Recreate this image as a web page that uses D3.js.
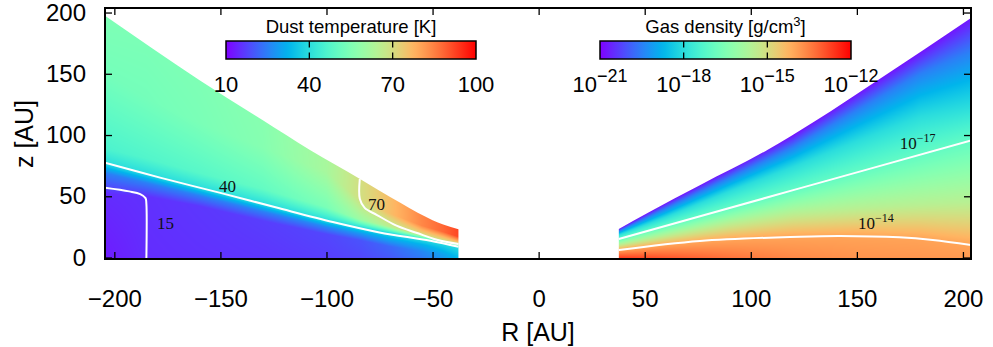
<!DOCTYPE html>
<html lang="en">
<head>
<meta charset="UTF-8">
<title>Disk model: dust temperature and gas density</title>
<script src="https://d3js.org/d3.v7.min.js"></script>
<style>
  body { margin: 0; background: #fff; }
  svg text { font-family: "Liberation Sans", Arial, sans-serif; fill: #000; }
  svg text.clabel { font-family: "Liberation Serif", "Times New Roman", serif; fill: #111; }
</style>
</head>
<body>
<svg id="chart" width="993" height="347"></svg>
<script>
// axis ticks
const xTicks = [-200, -150, -100, -50, 0, 50, 100, 150, 200];
const yTicks = [0, 50, 100, 150, 200];

// colour bar ticks
const tempTicks = [10, 40, 70, 100];
const densTicks = [-21, -18, -15, -12];

// disk surface, [|R|, z] in AU, for each half; inner edge of the grid
const innerR = 37.8;
const surfaceLeft = [[37.8, 23], [45, 27], [50, 30.5], [57, 36.5], [65, 44.5], [75, 54.5], [84, 64], [108, 88], [130, 112], [160, 145], [205, 198]];
const surfaceRight = [[37.8, 23.3], [52, 37], [76, 59], [108, 88], [130, 111], [160, 145], [205, 197]];

// dust temperature (R < 0): vertical profiles, z [AU] and T [K] at matching stops
const tempCols = [
  {R: -204.4, z: [-1.2, 52, 69, 77.4, 89, 150, 204], T: [13, 15, 25, 40, 46, 53, 55]},
  {R: -185,   z: [-1.2, 50, 61, 68.6, 81, 130, 204], T: [15, 15.5, 25, 40, 47, 53, 55]},
  {R: -160,   z: [-1.2, 42, 50.5, 57.3, 69, 110, 204], T: [15.5, 16.2, 25, 40, 48, 54, 56]},
  {R: -130,   z: [-1.2, 30, 37.5, 43.8, 56, 90, 204], T: [16, 17, 25, 40, 50, 56, 58]},
  {R: -100,   z: [-1.2, 19, 25, 30.3, 41, 70, 204], T: [17, 18, 26, 40, 54, 62, 64]},
  {R: -84,    z: [-1.2, 14, 19.5, 24.7, 31, 47, 204], T: [18, 19.5, 28, 40, 60, 69.5, 70.5]},
  {R: -70,    z: [-1.2, 9, 14.5, 20, 25, 36, 204], T: [20, 22, 30, 40, 65, 76, 78]},
  {R: -55,    z: [-1.2, 5, 10.5, 15, 18.6, 26, 204], T: [24, 26, 32, 40, 70, 84, 88]},
  {R: -45,    z: [-1.2, 3, 8, 11.8, 14.2, 21, 204], T: [28, 30, 35, 40, 70, 88, 92]},
  {R: -37.8,  z: [-1.2, 1, 5, 8.8, 11, 17, 204], T: [33, 34, 37, 40, 70, 92, 96]}
];

// gas density (R > 0): vertical profiles, z [AU] and log10 rho [g/cm3]
const densCols = [
  {R: 37.8, z: [-1.2, 6.1, 10.5, 15.1, 18.5, 21.5, 23.3, 204], v: [-12.5, -14, -15.5, -17, -18, -19.5, -20.8, -21]},
  {R: 60,   z: [-1.2, 10.4, 18, 25.8, 33, 40, 44.5, 204],      v: [-12.9, -14, -15.5, -17, -18, -19.5, -20.8, -21]},
  {R: 90,   z: [-1.2, 14.5, 28, 40.4, 54, 65, 72, 204],        v: [-13.3, -14, -15.5, -17, -18, -19.5, -20.8, -21]},
  {R: 120,  z: [-1.2, 16.8, 36, 54.9, 74, 90, 100, 204],       v: [-13.6, -14, -15.5, -17, -18, -19.5, -20.8, -21]},
  {R: 150,  z: [-1.2, 17.4, 40, 69.5, 95, 120, 134, 204],      v: [-13.75, -14, -15.5, -17, -18, -19.5, -20.8, -21]},
  {R: 180,  z: [-1.2, 15.5, 43, 84, 115, 150, 168, 204],       v: [-13.8, -14, -15.5, -17, -18, -19.5, -20.8, -21]},
  {R: 204,  z: [-1.2, 10.2, 45, 95.5, 123, 168, 197, 204],     v: [-13.85, -14, -15.5, -17, -18, -19.5, -20.8, -21]}
];

// contour lines, [R, z]
const cont15 = [[-204.4, 57], [-193, 54], [-187.8, 51.8], [-185.3, 48.5], [-184.9, 44], [-184.9, -1.2]];
const cont40 = [[-204.4, 77.4], [-178, 65], [-150.5, 53], [-124, 41], [-97, 29], [-75, 20.5], [-51, 13.7], [-37.8, 8.8]];
const cont70 = [[-84.3, 64.1], [-84.3, 48], [-82, 40.5], [-76.2, 34.7], [-67, 26], [-57.3, 20], [-48, 14.5], [-37.8, 11]];
const contM17 = [[37.8, 15.1], [120, 55], [203.8, 95.5]];
const contM14 = [[37.8, 6.1], [76, 13.5], [123, 17], [142, 17.6], [170, 16.5], [185.8, 14.3], [203.8, 10.2]];

// contour labels: [R, z, base, exponent]
const contLabels = [
  [-179.9, 23.3, "15", null],
  [-150.7, 53.5, "40", null],
  [-80.4, 38.8, "70", null],
  [170.2, 88.6, "10", "\u221217"],
  [150.5, 23.3, "10", "\u221214"]
];

// ---------------------------------------------------------------
const svg = d3.select("#chart");
const x = d3.scaleLinear().domain([-204.4, 203.8]).range([105, 971]);
const y = d3.scaleLinear().domain([-1.2, 203.7]).range([259, 8]);

// rainbow palette (gnuplot rgbformulae 33,13,10)
function rainbow(t) {
  t = Math.max(0, Math.min(1, t));
  const r = Math.min(1, Math.abs(2 * t - 0.5));
  const g = Math.sin(Math.PI * t);
  const b = Math.cos(Math.PI * t / 2);
  return [Math.round(r * 255), Math.round(g * 255), Math.round(Math.max(0, b) * 255)];
}
const rgb = t => { const c = rainbow(t); return `rgb(${c[0]},${c[1]},${c[2]})`; };

function profile(cols, key, R) {
  let i = 0;
  while (i < cols.length - 2 && R > cols[i + 1].R) i++;
  const a = cols[i], b = cols[i + 1];
  const w = Math.max(0, Math.min(1, (R - a.R) / (b.R - a.R)));
  return {z: a.z.map((v, k) => v + (b.z[k] - v) * w), v: a[key].map((v, k) => v + (b[key][k] - v) * w)};
}
function valueAt(p, z) {
  if (z <= p.z[0]) return p.v[0];
  for (let k = 1; k < p.z.length; k++) {
    if (z <= p.z[k]) {
      const w = (z - p.z[k - 1]) / (p.z[k] - p.z[k - 1]);
      return p.v[k - 1] + (p.v[k] - p.v[k - 1]) * w;
    }
  }
  return p.v[p.v.length - 1];
}

const tNorm = d3.scaleLinear().domain([10, 100]).clamp(true);
const dNorm = d3.scaleLinear().domain([-21, -12]).clamp(true);

// raster of the field
const fx0 = x.range()[0], fy0 = y.range()[1];
const fw = x.range()[1] - fx0, fh = y.range()[0] - fy0;
const canvas = document.createElement("canvas");
canvas.width = fw; canvas.height = fh;
const ctx = canvas.getContext("2d");
const img = ctx.createImageData(fw, fh);
for (let i = 0; i < fw; i++) {
  const R = x.invert(fx0 + i + 0.5);
  if (Math.abs(R) < innerR - 2) continue;
  const left = R < 0;
  const p = left ? profile(tempCols, "T", R) : profile(densCols, "v", R);
  const norm = left ? tNorm : dNorm;
  for (let j = 0; j < fh; j++) {
    const z = y.invert(fy0 + j + 0.5);
    const c = rainbow(norm(valueAt(p, z)));
    const o = (j * fw + i) * 4;
    img.data[o] = c[0]; img.data[o + 1] = c[1]; img.data[o + 2] = c[2]; img.data[o + 3] = 255;
  }
}
ctx.putImageData(img, 0, 0);

const defs = svg.append("defs");
defs.append("clipPath").attr("id", "frameClip")
  .append("rect").attr("x", fx0).attr("y", fy0).attr("width", fw).attr("height", fh);

// disk outline: smooth surface, closed along the midplane
const surf = d3.line().x(d => x(d[0])).y(d => y(d[1])).curve(d3.curveMonotoneX);
const outerR = 205;
const rightPath = surf(surfaceRight) + `L${x(outerR)},${y(-1.2)}L${x(innerR)},${y(-1.2)}Z`;
const leftSurface = surfaceLeft.map(d => [-d[0], d[1]]).reverse();
const leftPath = surf(leftSurface) + `L${x(-innerR)},${y(-1.2)}L${x(-outerR)},${y(-1.2)}Z`;
const diskClip = defs.append("clipPath").attr("id", "diskClip");
diskClip.append("path").attr("d", leftPath);
diskClip.append("path").attr("d", rightPath);

const plot = svg.append("g").attr("clip-path", "url(#frameClip)");
plot.append("image")
  .attr("x", fx0).attr("y", fy0).attr("width", fw).attr("height", fh)
  .attr("preserveAspectRatio", "none")
  .attr("clip-path", "url(#diskClip)")
  .attr("href", canvas.toDataURL());

// contours
const curve = d3.line().x(d => x(d[0])).y(d => y(d[1])).curve(d3.curveCatmullRom.alpha(0.5));
[cont15, cont40, cont70, contM17, contM14].forEach(c => {
  plot.append("path").attr("d", curve(c))
    .attr("fill", "none").attr("stroke", "#fff").attr("stroke-width", 2);
});

contLabels.forEach(d => {
  const t = svg.append("text").attr("class", "clabel")
    .attr("x", x(d[0])).attr("y", y(d[1])).attr("font-size", "17px").text(d[2]);
  if (d[3]) t.append("tspan").attr("dy", -7).attr("font-size", "12px").text(d[3]);
});

// axes (ticks inside, mirrored on top and right)
const fmt = d => (d < 0 ? "\u2212" + (-d) : String(d));
const bottom = svg.append("g").attr("transform", `translate(0,${y.range()[0]})`)
  .call(d3.axisBottom(x).tickValues(xTicks).tickSizeInner(-7).tickSizeOuter(0).tickPadding(31).tickFormat(fmt));
const leftAx = svg.append("g").attr("transform", `translate(${fx0},0)`)
  .call(d3.axisLeft(y).tickValues(yTicks).tickSizeInner(-7).tickSizeOuter(0).tickPadding(19).tickFormat(fmt));
svg.append("g").attr("transform", `translate(0,${fy0})`)
  .call(d3.axisTop(x).tickValues(xTicks).tickSizeInner(-7).tickSizeOuter(0).tickFormat(""));
svg.append("g").attr("transform", `translate(${x.range()[1]},0)`)
  .call(d3.axisRight(y).tickValues(yTicks).tickSizeInner(-7).tickSizeOuter(0).tickFormat(""));
svg.selectAll(".domain").remove();
svg.selectAll(".tick line").attr("stroke", "#000").attr("stroke-width", 1.3);
bottom.selectAll("text").attr("font-size", "24px").attr("font-family", "Liberation Sans, Arial, sans-serif");
leftAx.selectAll("text").attr("font-size", "24px").attr("font-family", "Liberation Sans, Arial, sans-serif");

svg.append("rect").attr("x", fx0).attr("y", fy0).attr("width", fw).attr("height", fh)
  .attr("fill", "none").attr("stroke", "#000").attr("stroke-width", 2);

svg.append("text").attr("x", (fx0 + x.range()[1]) / 2).attr("y", 341)
  .attr("text-anchor", "middle").attr("font-size", "25px").text("R [AU]");
svg.append("text").attr("transform", "translate(33,134) rotate(-90)")
  .attr("text-anchor", "middle").attr("font-size", "25px").text("z [AU]");

// colour bars
const gradStops = d3.range(0, 1.0001, 0.02);
function colorBar(id, scale, ticks, title, label) {
  const [x0, x1] = scale.range();
  const grad = defs.append("linearGradient").attr("id", id);
  grad.selectAll("stop").data(gradStops).join("stop")
    .attr("offset", d => d).attr("stop-color", d => rgb(d));
  const g = svg.append("g");
  g.append("rect").attr("x", x0).attr("y", 41).attr("width", x1 - x0).attr("height", 18)
    .attr("fill", `url(#${id})`).attr("stroke", "#000").attr("stroke-width", 1.5);
  ticks.slice(1, -1).forEach(t => {
    g.append("line").attr("x1", scale(t)).attr("x2", scale(t)).attr("y1", 41).attr("y2", 47.5)
      .attr("stroke", "#000").attr("stroke-width", 1.3);
    g.append("line").attr("x1", scale(t)).attr("x2", scale(t)).attr("y1", 52.5).attr("y2", 59)
      .attr("stroke", "#000").attr("stroke-width", 1.3);
  });
  const tt = g.append("text").attr("x", (x0 + x1) / 2).attr("y", 33)
    .attr("text-anchor", "middle").attr("font-size", "18.5px");
  title(tt);
  ticks.forEach(t => {
    const lt = g.append("text").attr("x", scale(t)).attr("y", 92)
      .attr("text-anchor", "middle").attr("font-size", "22px");
    label(lt, t);
  });
}
colorBar("tempGrad", d3.scaleLinear().domain([10, 100]).range([226, 476]), tempTicks,
  t => t.text("Dust temperature [K]"),
  (t, v) => t.text(v));
colorBar("densGrad", d3.scaleLinear().domain([-21, -12]).range([600, 851]), densTicks,
  t => { t.append("tspan").text("Gas density [g/cm"); t.append("tspan").attr("dy", -7).attr("font-size", "13px").text("3");
         t.append("tspan").attr("dy", 7).text("]"); },
  (t, v) => { t.append("tspan").text("10"); t.append("tspan").attr("dy", -10).attr("font-size", "18px").text("\u2212" + (-v)); });
</script>
</body>
</html>
